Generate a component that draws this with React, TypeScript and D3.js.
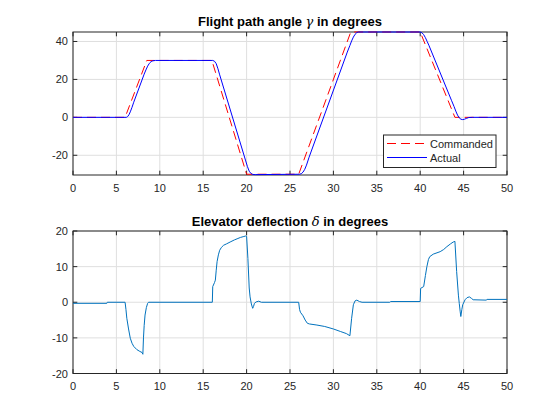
import React from 'react';
import * as d3 from 'd3';

// ---- data ----
const timeTicks = [0, 5, 10, 15, 20, 25, 30, 35, 40, 45, 50];
const gammaTicks = [-20, 0, 20, 40];
const deltaTicks = [-20, -10, 0, 10, 20];
const gammaDomain = [-30.4, 45];
const deltaDomain = [-20, 20];
const timeDomain = [0, 50];

const legendLabels = ['Commanded', 'Actual'];

const cmdT = [0, 6, 8.5, 16, 20, 26, 32, 40, 44, 50];
const cmdV = [0, 0, 30, 30, -30, -30, 45, 45, 0, 0];

const actT = [
  0, 6.15, 6.3, 6.45, 6.6, 6.8, 7.0, 8.2, 8.4, 8.6, 8.8, 9.0, 9.2, 9.5,
  16.1, 16.3, 16.5, 16.7, 16.9, 19.9, 20.1, 20.3, 20.5, 20.7, 21.0,
  26.1, 26.3, 26.5, 26.7, 26.9, 27.2, 31.6, 31.9, 32.1, 32.3, 32.5, 32.7, 32.9,
  40.0, 40.2, 40.4, 40.6, 40.8, 41.0, 43.6, 43.9, 44.1, 44.3, 44.5, 44.7, 44.9, 45.1, 45.3, 45.6, 46.0, 50,
];
const actV = [
  0, 0, 0.4, 1.4, 2.9, 5.3, 8.0, 22.8, 25.0, 27.0, 28.5, 29.4, 29.8, 30,
  30, 29.6, 28.3, 25.6, 22.4, -23.0, -26.0, -28.4, -29.6, -30.1, -30.2,
  -30, -29.7, -28.9, -27.4, -25.2, -21.0, 34.4, 37.9, 40.3, 42.3, 43.8, 44.7, 45,
  45, 44.6, 43.6, 42.0, 40.0, 38.0, 9.0, 5.7, 3.3, 1.2, -0.3, -1.0, -1.2, -1.0, -0.6, -0.1, 0, 0,
];

const elevT = [
  0, 3.9, 3.95, 6.0, 6.1, 6.2, 6.4, 6.6, 6.8, 7.0, 7.36, 7.7, 7.95, 8.05, 8.12, 8.2, 8.3, 8.45, 8.6, 8.7,
  16.05, 16.1, 16.3, 16.4, 16.5, 16.6, 16.75, 16.9, 17.1, 17.35, 17.7, 18.1, 18.6, 19.0, 19.3, 19.6, 19.9, 20.0,
  20.15, 20.3, 20.4, 20.55, 20.7, 20.8, 20.9, 21.1, 21.4, 21.7,
  26.0, 26.1, 26.2, 26.5, 26.75, 27.0, 27.25, 28.1, 29.0, 30.0, 30.8, 31.5, 31.9, 32.1, 32.3, 32.5, 32.7, 33.0, 33.3,
  36.5, 36.6, 40.0, 40.05, 40.4, 40.6, 40.77, 40.95, 41.1, 41.5, 42.3, 42.7, 43.07, 43.5, 43.8, 44.0,
  44.2, 44.4, 44.5, 44.6, 44.68, 44.8, 44.9, 45.17, 45.4, 45.67, 45.9, 46.1, 47.6, 47.7, 50,
];
const elevV = [
  -0.3, -0.3, 0, 0, -2.0, -4.5, -7.5, -10.1, -11.5, -12.4, -13.3, -13.8, -14.1, -14.6, -10, -6.5, -3.6, -1.5, -0.3, 0,
  0, 4.4, 5.5, 6.2, 9, 11.4, 13.3, 14.6, 15.4, 16.0, 16.4, 16.9, 17.5, 17.9, 18.2, 18.4, 18.6, 18.5,
  12.3, 4, 1.5, -0.5, -1.7, -1.2, -0.3, 0.1, 0.3, 0,
  0, -2.0, -2.8, -3.8, -5.0, -5.9, -6.1, -6.4, -6.8, -7.5, -8.2, -8.8, -9.4, -4.5, -0.7, 0.4, 0.6, 0.2, 0,
  0, 0.2, 0.2, 3.9, 4.4, 7.5, 10, 12.0, 12.8, 13.5, 14.2, 14.8, 15.6, 16.4, 16.9, 17.1,
  8.6, 2.0, -0.3, -2.5, -4.0, -2.0, -0.7, 0.7, 1.3, 1.5, 1.1, 0.7, 0.6, 0.8, 0.8,
];

const FONT = '"Liberation Sans", Arial, Helvetica, sans-serif';
const AX = '#262626';
const GRID = '#dfdfdf';
const TICKLEN = 4.3;

type Box = { l: number; r: number; t: number; b: number };

function Frame({ box, x, y, xTicks, yTicks, clipId }: any) {
  return (
    <g>
      <rect x={box.l} y={box.t} width={box.r - box.l} height={box.b - box.t} fill="#fff" />
      {xTicks.map((v: number) => (
        <line key={'gx' + v} x1={x(v)} x2={x(v)} y1={box.t} y2={box.b} stroke={GRID} strokeWidth={1} />
      ))}
      {yTicks.map((v: number) => (
        <line key={'gy' + v} x1={box.l} x2={box.r} y1={y(v)} y2={y(v)} stroke={GRID} strokeWidth={1} />
      ))}
      <defs>
        <clipPath id={clipId}>
          <rect x={box.l - 1} y={box.t - 1} width={box.r - box.l + 2} height={box.b - box.t + 2} />
        </clipPath>
      </defs>
    </g>
  );
}

function AxisLines({ box, x, y, xTicks, yTicks }: any) {
  return (
    <g>
      <rect x={box.l} y={box.t} width={box.r - box.l} height={box.b - box.t} fill="none" stroke={AX} strokeWidth={1} />
      {xTicks.map((v: number) => (
        <g key={'tx' + v}>
          <line x1={x(v)} x2={x(v)} y1={box.b} y2={box.b - TICKLEN} stroke={AX} />
          <line x1={x(v)} x2={x(v)} y1={box.t} y2={box.t + TICKLEN} stroke={AX} />
          <text x={x(v)} y={box.b + 16.5} textAnchor="middle" fontSize={11} fill={AX} fontFamily={FONT}>{v}</text>
        </g>
      ))}
      {yTicks.map((v: number) => (
        <g key={'ty' + v}>
          <line x1={box.l} x2={box.l + TICKLEN} y1={y(v)} y2={y(v)} stroke={AX} />
          <line x1={box.r} x2={box.r - TICKLEN} y1={y(v)} y2={y(v)} stroke={AX} />
          <text x={box.l - 5} y={y(v) + 4} textAnchor="end" fontSize={11} fill={AX} fontFamily={FONT}>{v}</text>
        </g>
      ))}
    </g>
  );
}

export default function App() {
  const topBox: Box = { l: 73, r: 507, t: 32, b: 175 };
  const botBox: Box = { l: 73, r: 507, t: 231, b: 373.5 };

  const xTop = d3.scaleLinear().domain(timeDomain).range([topBox.l, topBox.r]);
  const yTop = d3.scaleLinear().domain(gammaDomain).range([topBox.b, topBox.t]);
  const xBot = d3.scaleLinear().domain(timeDomain).range([botBox.l, botBox.r]);
  const yBot = d3.scaleLinear().domain(deltaDomain).range([botBox.b, botBox.t]);

  const mk = (T: number[], V: number[], xs: any, ys: any) =>
    d3.line<number>().x((d, i) => xs(T[i])).y((d, i) => ys(V[i]))(T) || '';

  const cmdPath = mk(cmdT, cmdV, xTop, yTop);
  const actPath = mk(actT, actV, xTop, yTop);
  const elevPath = mk(elevT, elevV, xBot, yBot);

  const cx = (topBox.l + topBox.r) / 2;

  // legend
  const lg = { l: 383.5, t: 135, w: 112.5, h: 32.5 };

  return (
    <svg width={560} height={420} style={{ position: 'absolute', left: 0, top: 0, background: '#fff' }}>
      <rect x={0} y={0} width={560} height={420} fill="#fff" />
      {/* top axes */}
      <Frame box={topBox} x={xTop} y={yTop} xTicks={timeTicks} yTicks={gammaTicks} clipId="c1" />
      <AxisLines box={topBox} x={xTop} y={yTop} xTicks={timeTicks} yTicks={gammaTicks} />
      <g clipPath="url(#c1)">
        <path d={cmdPath} fill="none" stroke="#ff0000" strokeWidth={1} strokeDasharray="9,5" />
        <path d={actPath} fill="none" stroke="#0000ff" strokeWidth={1} />
      </g>
      <text x={cx} y={26} textAnchor="middle" fontSize={13} fontWeight="bold" fill="#000" fontFamily={FONT}>
        Flight path angle <tspan fontFamily='"DejaVu Serif", serif' fontStyle="italic" fontWeight="normal">γ</tspan> in degrees
      </text>
      {/* legend */}
      <g>
        <rect x={lg.l} y={lg.t} width={lg.w} height={lg.h} fill="#fff" stroke={AX} strokeWidth={1} />
        <line x1={lg.l + 3.5} x2={lg.l + 43.5} y1={lg.t + 8.5} y2={lg.t + 8.5} stroke="#ff0000" strokeDasharray="9,5" />
        <line x1={lg.l + 3.5} x2={lg.l + 43.5} y1={lg.t + 22.5} y2={lg.t + 22.5} stroke="#0000ff" />
        {legendLabels.map((s, i) => (
          <text key={s} x={lg.l + 46.5} y={lg.t + 12.5 + i * 14} fontSize={11} fill={AX} fontFamily={FONT}>{s}</text>
        ))}
      </g>

      {/* bottom axes */}
      <Frame box={botBox} x={xBot} y={yBot} xTicks={timeTicks} yTicks={deltaTicks} clipId="c2" />
      <AxisLines box={botBox} x={xBot} y={yBot} xTicks={timeTicks} yTicks={deltaTicks} />
      <g clipPath="url(#c2)">
        <path d={elevPath} fill="none" stroke="#0072BD" strokeWidth={1} />
      </g>
      <text x={cx} y={225.5} textAnchor="middle" fontSize={13} fontWeight="bold" fill="#000" fontFamily={FONT}>
        Elevator deflection <tspan fontFamily='"DejaVu Serif", serif' fontStyle="italic" fontWeight="normal">δ</tspan> in degrees
      </text>
    </svg>
  );
}
